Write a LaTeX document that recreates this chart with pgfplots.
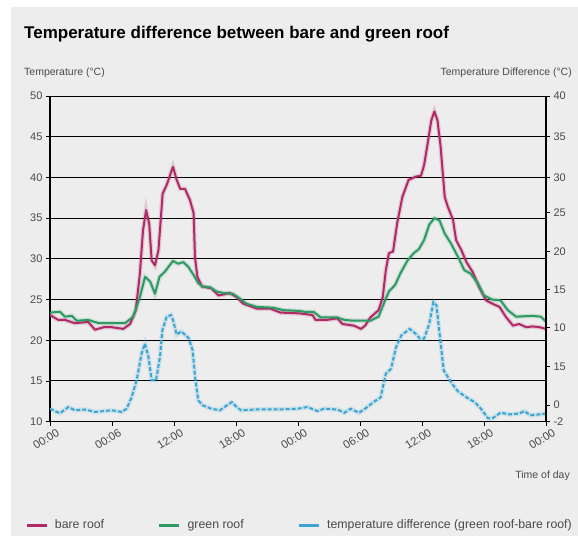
\documentclass[border=0pt]{standalone}
\usepackage{pgfplots}
\usepackage{pgfplotstable}
\pgfplotsset{compat=1.18}
\usepackage{fontspec}
\setmainfont{Liberation Sans}
\definecolor{bare}{HTML}{B02A67}
\definecolor{greenroof}{HTML}{2E9A63}
\definecolor{diff}{HTML}{3BA5D3}
\definecolor{bg}{HTML}{EDEDED}
\definecolor{txt}{HTML}{4A4A4A}

\pgfplotstableread{
h T
0 23.1
0.8 22.5
1.45 22.5
2.4 22.1
3.7 22.25
4.35 21.3
5.2 21.6
6.0 21.6
7.1 21.4
7.75 22.0
8.3 23.7
8.7 28.2
9.0 33.5
9.3 36.0
9.6 34.3
9.84 29.8
10.16 29.2
10.5 31.1
10.9 38.0
11.3 39.1
11.9 41.3
12.26 39.7
12.6 38.6
13.06 38.6
13.55 37.2
13.9 35.6
14.03 30.2
14.26 27.8
14.7 26.6
15.6 26.4
16.3 25.5
17.4 25.8
18.06 25.3
18.7 24.5
20 23.9
21.3 23.9
22.3 23.4
24.2 23.3
25.4 23.1
25.7 22.5
26.8 22.5
27.8 22.7
28.3 22.0
29.4 21.8
30.1 21.4
30.5 21.8
31.0 22.8
31.8 23.7
32.2 25.3
32.5 28.6
32.8 30.7
33.2 30.9
33.6 34.4
34.1 37.6
34.7 39.7
35.4 40.1
35.9 40.2
36.2 41.5
36.5 43.8
36.9 47.0
37.2 48.1
37.5 47.0
37.8 43.8
38.2 37.6
38.5 36.4
39.0 34.8
39.3 32.3
39.8 31.1
40.3 29.6
40.9 28.4
41.5 26.6
42.2 24.9
42.8 24.5
43.5 24.1
44.1 22.9
44.8 21.8
45.4 22.0
46.1 21.6
46.7 21.7
47.4 21.6
48 21.4
}\baretab

\pgfplotstableread{
h T
0 23.4
0.97 23.5
1.45 22.9
2.1 23.0
2.6 22.4
3.7 22.5
4.7 22.1
7.26 22.1
8.06 22.9
8.7 25.3
9.2 27.8
9.7 27.2
10.16 25.7
10.6 27.8
11.1 28.4
11.9 29.75
12.4 29.4
12.9 29.6
13.4 29.0
13.9 28.0
14.35 27.0
14.8 26.6
15.5 26.5
16.1 26.0
16.8 25.8
17.7 25.7
18.4 25.1
19.0 24.5
20.0 24.1
21.6 24.0
22.6 23.7
24.2 23.6
24.6 23.5
25.5 23.5
26.2 22.8
27.8 22.8
28.5 22.5
29.4 22.4
31.0 22.4
31.8 22.9
32.3 24.5
32.8 26.0
33.4 26.8
33.9 28.2
34.6 29.8
35.2 30.7
35.7 31.2
36.2 32.3
36.7 34.2
37.2 35.0
37.7 34.7
38.2 33.1
38.8 31.9
39.5 30.2
40.1 28.6
40.7 28.2
41.4 27.0
42.0 25.5
42.8 25.0
43.6 24.9
44.3 23.7
45.1 22.9
46.7 23.0
47.5 22.9
48 22.3
}\greentab

\pgfplotstableread{
h T
0 11.6
0.65 11.2
0.97 11.05
1.77 11.8
2.42 11.4
3.39 11.5
4.35 11.2
5.16 11.3
5.97 11.4
6.94 11.2
7.42 11.6
7.9 13.0
8.39 15.1
8.87 18.4
9.19 19.6
9.52 18.0
9.84 15.1
10.26 15.1
10.65 18.0
10.87 21.2
11.29 22.9
11.71 23.1
11.9 22.5
12.26 20.7
12.7 21.1
13.4 20.3
13.8 18.8
14.03 15.6
14.35 12.6
14.8 12.0
15.6 11.6
16.45 11.4
17.1 12.0
17.6 12.4
18.06 11.8
18.5 11.4
20 11.5
22 11.5
24 11.6
24.9 11.8
25.9 11.3
26.5 11.6
27.8 11.5
28.5 11.1
29.1 11.6
29.9 11.1
30.5 11.6
31.3 12.4
32.0 13.0
32.5 15.9
33.0 16.5
33.5 19.2
34.0 20.6
34.8 21.4
35.4 20.8
35.8 20.2
36.2 20.2
36.7 22.0
37.1 24.7
37.4 24.3
37.7 20.8
38.1 16.3
38.5 15.5
39.0 14.5
39.5 13.7
40.3 13.0
41.1 12.4
41.7 11.6
42.4 10.4
42.8 10.4
43.6 11.1
44.5 10.9
45.4 11.0
45.9 11.3
46.5 10.8
47.4 10.9
48 11.0
}\difftab

\begin{document}
\begin{tikzpicture}[x=1pt,y=1pt]
\useasboundingbox (0,0) rectangle (578,536);
\fill[bg] (11,0) rectangle (578,529);
\node[anchor=base west, inner sep=0pt, font=\bfseries\fontsize{17}{20}\selectfont] at (24,497) {Temperature difference between bare and green roof};
\node[anchor=base west, inner sep=0pt, text=txt, font=\fontsize{10.5}{12}\selectfont] at (24,460) {Temperature (\textdegree C)};
\node[anchor=base east, inner sep=0pt, text=txt, font=\fontsize{10.5}{12}\selectfont] at (572,460) {Temperature Difference (\textdegree C)};
\node[anchor=base east, inner sep=0pt, text=txt, font=\fontsize{10.5}{12}\selectfont] at (570,58) {Time of day};

\begin{axis}[
  at={(50pt,114.3pt)}, anchor=south west,
  scale only axis, width=496pt, height=325.7pt,
  xmin=0, xmax=48, ymin=10, ymax=50,
  /pgf/number format/assume math mode=true,
  axis y line*=left, axis x line*=bottom,
  axis line style={black, line width=1.3pt, -},
  xtick={0,6,...,48},
  xticklabels={00:00,00:06,12:00,18:00,00:00,06:00,12:00,18:00,00:00},
  x tick label style={rotate=32, anchor=north east, inner sep=0pt, xshift=4pt, yshift=-5pt, font=\fontsize{11.3}{12}\selectfont, text=txt},
  ytick={10,15,...,50},
  y tick label style={font=\fontsize{11}{12}\selectfont, text=txt},
  tick align=outside, major tick length=4pt,
  tick style={black, line width=0.9pt},
  ymajorgrids, grid style={black, line width=1pt},
  legend style={at={(-0.056,-0.318)}, anchor=west, draw=none, fill=none,
    legend columns=3, font=\fontsize{12.3}{14}\selectfont, text=txt,
    /tikz/every odd column/.append style={column sep=5pt},
    /tikz/every even column/.append style={column sep=52pt}},
  legend image code/.code={\draw[#1,solid,line width=2.5pt] (0pt,0pt) -- (20pt,0pt);},
]
\addplot[bare, line width=4.5pt, opacity=0.18, forget plot] table[x=h,y=T] {\baretab};
\addplot[greenroof, line width=4.5pt, opacity=0.18, forget plot] table[x=h,y=T] {\greentab};
\addplot[diff, line width=4.5pt, opacity=0.18, forget plot] table[x=h,y=T] {\difftab};
\addplot[bare, line width=2pt, line join=round] table[x=h,y=T] {\baretab};
\addlegendentry{bare roof}
\addplot[greenroof, line width=2pt, line join=round] table[x=h,y=T] {\greentab};
\addlegendentry{green roof}
\addplot[diff, line width=2pt, dash pattern=on 4pt off 2pt] table[x=h,y=T] {\difftab};
\addlegendentry{temperature difference (green roof-bare roof)}
\end{axis}

\begin{axis}[
  at={(50pt,114.3pt)}, anchor=south west,
  scale only axis, width=496pt, height=325.7pt,
  xmin=0, xmax=48, ymin=10, ymax=50,
  /pgf/number format/assume math mode=true,
  axis x line=none, axis y line*=right,
  axis line style={black, line width=1.3pt, -},
  ytick={10,12.05,16.8,21.6,26.2,30.9,35.7,40,45,50},
  yticklabels={-2,0,15,10,15,20,25,30,35,40},
  y tick label style={font=\fontsize{11}{12}\selectfont, text=txt},
  tick align=outside, major tick length=4pt,
  tick style={black, line width=0.9pt},
]
\end{axis}
\end{tikzpicture}
\end{document}
